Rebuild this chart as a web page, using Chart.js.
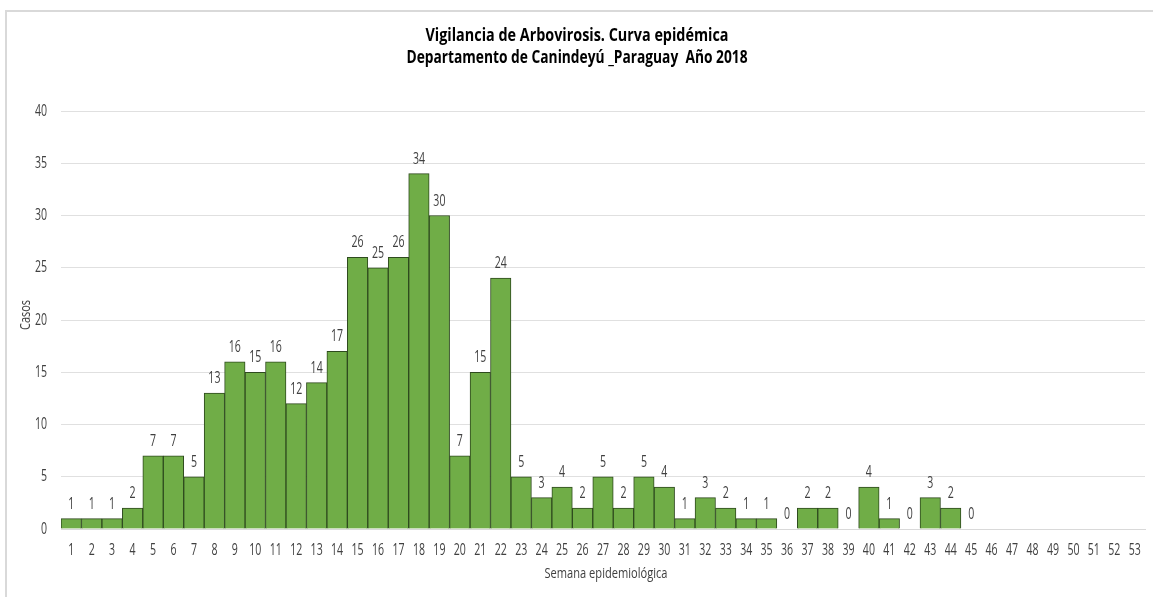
<!DOCTYPE html>
<html>
<head>
<meta charset="utf-8">
<script src="https://cdn.jsdelivr.net/npm/chart.js@4.4.1/dist/chart.umd.min.js"></script>
<style>
  html, body { margin: 0; padding: 0; background: #fff; }
  #wrap { position: absolute; left: 0; top: 0; width: 1153px; height: 597px; }
  #frame { position: absolute; left: 5px; top: 10px; width: 1148px; height: 587px; border-left: 2px solid #d9d9d9; border-top: 2px solid #d9d9d9; box-sizing: border-box; pointer-events: none; }
</style>
</head>
<body>
<div id="wrap"><canvas id="c" width="1153" height="597"></canvas><div id="frame"></div></div>
<script>
const semanas = Array.from({length: 53}, (_, i) => String(i + 1));
const casos = [1,1,1,2,7,7,5,13,16,15,16,12,14,17,26,25,26,34,30,7,15,24,5,3,4,2,5,2,5,4,1,3,2,1,1,0,2,2,0,4,1,0,3,2,0,null,null,null,null,null,null,null,null];
const yTicks = [0,5,10,15,20,25,30,35,40];
const titulo = ["Vigilancia de Arbovirosis. Curva epidémica", "Departamento de Canindeyú _Paraguay  Año 2018"];
const tituloX = "Semana epidemiológica";
const tituloY = "Casos";

const FONT = "'Open Sans', 'DejaVu Sans', sans-serif";
const SQ = 0.66; // horizontal condensation of all text

function drawText(ctx, text, x, y, opts) {
  const o = Object.assign({ size: 15, bold: false, color: '#404040', align: 'center', baseline: 'alphabetic', sx: SQ, rot: 0, width: null }, opts);
  ctx.save();
  ctx.font = (o.bold ? 'bold ' : '') + o.size + 'px ' + FONT;
  ctx.fillStyle = o.color;
  ctx.textAlign = o.align;
  ctx.textBaseline = o.baseline;
  let sx = o.sx;
  if (o.width) sx = o.width / ctx.measureText(text).width;
  ctx.translate(x, y);
  if (o.rot) ctx.rotate(o.rot);
  ctx.scale(sx, 1);
  ctx.fillText(text, 0, 0);
  ctx.restore();
}

const textPlugin = {
  id: 'texts',
  afterDatasetsDraw(chart) {
    const ctx = chart.ctx;
    const meta = chart.getDatasetMeta(0);
    const xs = chart.scales.x, ys = chart.scales.y;
    // data labels
    meta.data.forEach((bar, i) => {
      const v = casos[i];
      if (v === null || v === undefined) return;
      drawText(ctx, String(v), bar.x, ys.getPixelForValue(v) - 10, { size: 16 });
    });
    // x tick labels
    xs.ticks.forEach((t, i) => {
      drawText(ctx, semanas[i], xs.getPixelForTick(i), 555, { size: 16 });
    });
    // y tick labels
    yTicks.forEach(v => {
      drawText(ctx, String(v), 47, ys.getPixelForValue(v), { size: 16, align: 'right', baseline: 'middle' });
    });
    // titles
    drawText(ctx, titulo[0], 577, 41, { size: 17, bold: true, color: '#000', width: 303 });
    drawText(ctx, titulo[1], 577, 63, { size: 17, bold: true, color: '#000', width: 341 });
    drawText(ctx, tituloX, 606, 578, { size: 15, width: 123 });
    drawText(ctx, tituloY, 30, 315, { size: 14, rot: -Math.PI / 2, width: 30 });
  }
};

new Chart(document.getElementById('c'), {
  type: 'bar',
  data: {
    labels: semanas,
    datasets: [{
      data: casos,
      backgroundColor: '#70ad47',
      borderColor: '#2e4a1e',
      borderWidth: 1,
      barPercentage: 1,
      categoryPercentage: 1
    }]
  },
  options: {
    responsive: false,
    animation: false,
    events: [],
    layout: { padding: { left: 0, right: 8, top: 111, bottom: 0 } },
    plugins: { legend: { display: false }, title: { display: false }, tooltip: { enabled: false } },
    scales: {
      x: {
        grid: { display: false, drawTicks: false },
        border: { display: true, color: '#d9d9d9', width: 1 },
        ticks: { display: false, autoSkip: false },
        afterFit(s) { s.height = 68; }
      },
      y: {
        min: 0, max: 40,
        afterBuildTicks(s) { s.ticks = yTicks.map(v => ({ value: v })); },
        grid: { color: '#e0e0e0', drawTicks: false },
        border: { display: false },
        ticks: { display: false },
        afterFit(s) { s.width = 61; }
      }
    }
  },
  plugins: [textPlugin]
});
</script>
</body>
</html>
